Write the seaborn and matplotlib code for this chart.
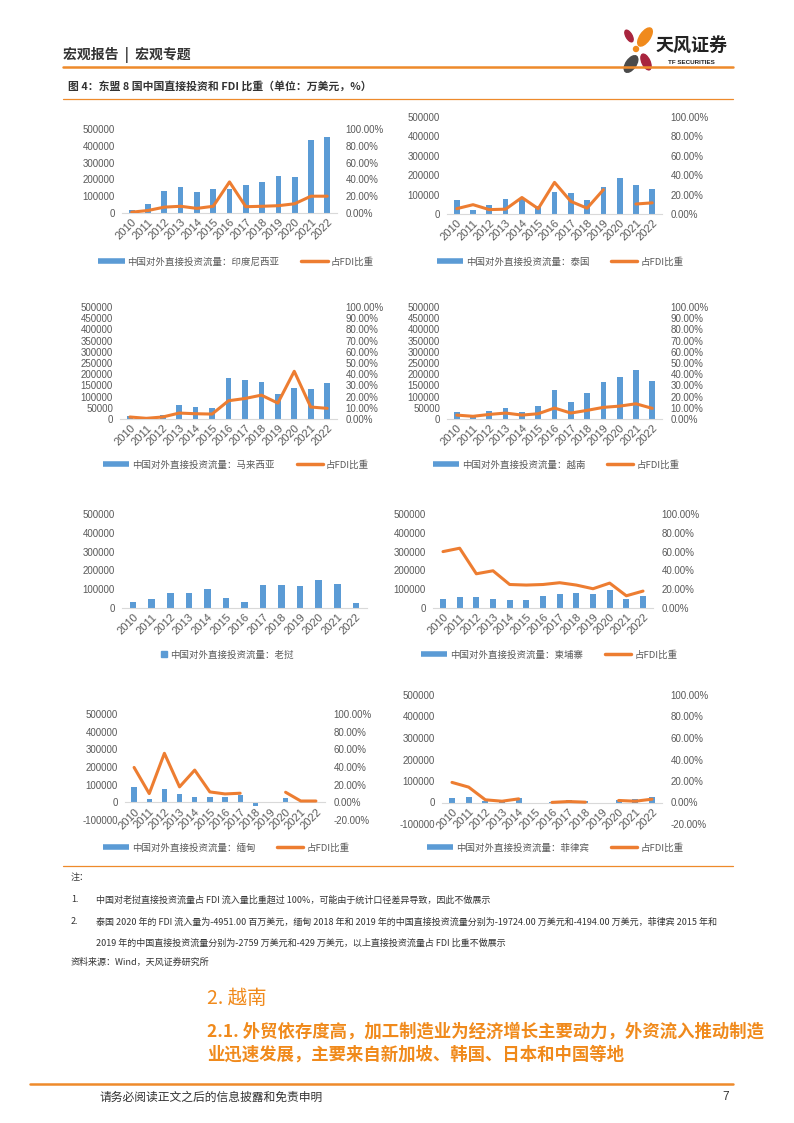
import numpy as np
import pandas as pd
import matplotlib
matplotlib.use("Agg")
import matplotlib.pyplot as plt
from matplotlib.lines import Line2D
from matplotlib.patches import Ellipse
import seaborn as sns

# ---- data (万美元 / %) ----
years = [str(y) for y in range(2010, 2023)]
nan = np.nan

indonesia_flow = [20000, 56000, 133000, 153000, 125000, 143000, 145000, 165000, 185000, 218000, 217000, 433000, 450000]
indonesia_ratio = [1.0, 3.0, 7.0, 8.0, 5.5, 8.0, 37.0, 7.5, 8.0, 8.7, 11.0, 20.0, 20.0]

thailand_flow = [72000, 23000, 48000, 76000, 82000, 41000, 112000, 106000, 74000, 138000, 188000, 149000, 127000]
thailand_ratio = [5.5, 9.6, 4.5, 5.0, 17.0, 5.5, 32.6, 13.0, 6.0, 25.0, nan, 10.3, 11.5]

malaysia_flow = [14000, 9500, 19900, 61600, 52100, 48900, 182600, 172000, 166000, 110000, 137000, 134000, 160000]
malaysia_ratio = [1.8, 0.6, 1.8, 5.3, 4.7, 4.4, 16.3, 18.3, 21.3, 14.2, 42.6, 10.7, 9.5]

vietnam_flow = [30500, 18900, 34900, 48100, 33300, 56000, 127900, 76400, 115100, 164900, 187600, 220800, 170000]
vietnam_ratio = [3.5, 2.4, 4.1, 5.3, 3.5, 4.7, 9.8, 5.3, 7.7, 10.4, 11.5, 13.6, 9.5]

laos_flow = [33000, 48000, 82000, 79000, 102500, 53000, 33000, 123000, 125000, 116000, 147000, 129000, 26500]

cambodia_flow = [46600, 56600, 55900, 49900, 43800, 41900, 62600, 74400, 77800, 74600, 95600, 46700, 63000]
cambodia_ratio = [60.0, 63.6, 36.4, 39.6, 25.0, 24.4, 25.0, 26.9, 24.4, 20.5, 26.5, 13.0, 18.0]

myanmar_flow = [85000, 20000, 73000, 46500, 33000, 31500, 28000, 41500, -19724, -4194, 24000, 1800, 1500]
myanmar_ratio = [39.5, 9.9, 55.5, 17.5, 36.5, 11.8, 9.5, 10.3, nan, nan, 11.4, 1.5, 1.5]

philippines_flow = [22500, 24000, 7500, 5400, 22500, -2759, 3200, 10800, 5900, -429, 13000, 15200, 27000]
philippines_ratio = [18.7, 14.3, 2.5, 1.2, 3.4, nan, 0.1, 0.9, 0.3, nan, 1.9, 1.2, 3.1]

BLUE = "#5B9BD5"
ORANGE = "#ED7D31"
RULE = "#EE8A2B"
GRAY = "#595959"

sns.set_style("white")
plt.rcParams["font.family"] = ["Liberation Sans", "Noto Sans CJK SC", "DejaVu Sans"]
CJK = ["Noto Sans CJK SC", "DejaVu Sans"]

W, H = 794, 1123
fig = plt.figure(figsize=(W / 100, H / 100), dpi=100)


def px_axes(x0, y0, x1, y1):
    return fig.add_axes([x0 / W, 1 - y1 / H, (x1 - x0) / W, (y1 - y0) / H])


def fy(y):
    return 1 - y / H


def draw_panel(box, name, flow, ratio, ylim, ystep, rlim, legend_c, square=False):
    ax = px_axes(*box)
    df = pd.DataFrame({"year": years, "flow": flow})
    sns.barplot(data=df, x="year", y="flow", color=BLUE, saturation=1, width=0.35,
                errorbar=None, linewidth=0, ax=ax)
    ax.set_xlim(-0.6, 12.6)
    ax.set_ylim(*ylim)
    ticks = np.arange(ylim[0], ylim[1] + 1, ystep)
    ax.set_yticks(ticks)
    ax.set_yticklabels([str(int(t)) for t in ticks])
    ax.set_xlabel("")
    ax.set_ylabel("")
    for s in ["top", "right", "left"]:
        ax.spines[s].set_visible(False)
    ax.spines["bottom"].set_color("#D9D9D9")
    ax.spines["bottom"].set_position(("data", 0))
    ax.tick_params(axis="y", length=0, labelsize=7, colors=GRAY, pad=5)
    ax.tick_params(axis="x", length=0, labelsize=8, colors=GRAY, pad=3)
    plt.setp(ax.get_xticklabels(), rotation=45, ha="right", rotation_mode="anchor")

    label = "中国对外直接投资流量：" + name
    if ratio is not None:
        ax2 = ax.twinx()
        ax2.plot(np.arange(len(years)), ratio, color=ORANGE, lw=2.2)
        ax2.set_ylim(*rlim[:2])
        rt = np.arange(rlim[0], rlim[1] + 0.1, rlim[2])
        ax2.set_yticks(rt)
        ax2.set_yticklabels([f"{v:.2f}%" for v in rt])
        for s in ax2.spines.values():
            s.set_visible(False)
        ax2.tick_params(axis="y", length=0, labelsize=7, colors=GRAY, pad=6)
        handles = [Line2D([], [], color=BLUE, lw=4, solid_capstyle="butt"),
                   Line2D([], [], color=ORANGE, lw=2.5, solid_capstyle="round")]
        labels = [label, "占FDI比重"]
        ncol = 2
    else:
        handles = [Line2D([], [], color=BLUE, lw=0, marker="s", markersize=4.5)]
        labels = [label]
        ncol = 1
    leg = fig.legend(handles, labels, loc="center", bbox_to_anchor=(legend_c[0] / W, fy(legend_c[1])),
                     ncol=ncol, frameon=False, handlelength=2.8 if not square else 0.8,
                     columnspacing=2.3, handletextpad=0.3, prop={"family": CJK, "size": 6.8})
    for t in leg.get_texts():
        t.set_color(GRAY)
    return ax


big = (0, 500000)
draw_panel((122, 129, 337, 213), "印度尼西亚", indonesia_flow, indonesia_ratio, big, 100000, (0, 100, 20), (236, 262))
draw_panel((447, 117, 662, 214), "泰国", thailand_flow, thailand_ratio, big, 100000, (0, 100, 20), (560, 262))
draw_panel((120, 307, 337, 419), "马来西亚", malaysia_flow, malaysia_ratio, big, 50000, (0, 100, 10), (236, 465))
draw_panel((447, 307, 662, 419), "越南", vietnam_flow, vietnam_ratio, big, 50000, (0, 100, 10), (556, 465))
draw_panel((122, 514, 367, 608), "老挝", laos_flow, None, big, 100000, None, (227, 655), square=True)
draw_panel((433, 514, 653, 608), "柬埔寨", cambodia_flow, cambodia_ratio, big, 100000, (0, 100, 20), (549, 655))
draw_panel((125, 714, 325, 820), "缅甸", myanmar_flow, myanmar_ratio, (-100000, 500000), 100000, (-20, 100, 20), (226, 848))
draw_panel((442, 695, 662, 824), "菲律宾", philippines_flow, philippines_ratio, (-100000, 500000), 100000, (-20, 100, 20), (555, 848))

# ---- page furniture ----
def rule(y, lw, x0=63, x1=733):
    fig.add_artist(Line2D([x0 / W, x1 / W], [fy(y), fy(y)], color=RULE, lw=lw, transform=fig.transFigure))


fig.text(63 / W, fy(55), "宏观报告  |  宏观专题", family=CJK, fontsize=10, weight="bold", color="#333333", va="center")
rule(67, 1.8)
fig.text(68 / W, fy(86), "图 4：东盟 8 国中国直接投资和 FDI 比重（单位：万美元，%）", family=CJK, fontsize=7.8,
         weight="bold", color="#333333", va="center")
rule(99, 0.9)

# logo
lg = px_axes(618, 20, 658, 78)
lg.set_xlim(618, 658)
lg.set_ylim(78, 20)
lg.axis("off")
lg.add_patch(Ellipse((629, 36), 6, 13, angle=-30, color="#A8243E"))
lg.add_patch(Ellipse((645, 37), 10, 21, angle=35, color="#F08A1C"))
lg.add_patch(Ellipse((631, 64), 10, 19, angle=35, color="#4A4A4A"))
lg.add_patch(Ellipse((646, 62), 8, 17, angle=-25, color="#A8243E"))
lg.add_patch(Ellipse((636, 49), 5, 5, color="#F08A1C"))
fig.text(656 / W, fy(46), "天风证券", family=CJK, fontsize=13, weight="bold", color="#222222", va="center")
fig.text(668 / W, fy(63), "TF SECURITIES", fontsize=4.5, weight="bold", color="#222222", va="center")

# notes
rule(866, 0.9)
note_kw = dict(family=CJK, fontsize=6.5, color="#333333", va="center")
fig.text(71 / W, fy(878), "注：", **note_kw)
fig.text(71 / W, fy(900), "1.", **note_kw)
fig.text(96 / W, fy(900), "中国对老挝直接投资流量占 FDI 流入量比重超过 100%，可能由于统计口径差异导致，因此不做展示", **note_kw)
fig.text(71 / W, fy(922), "2.", **note_kw)
fig.text(96 / W, fy(922), "泰国 2020 年的 FDI 流入量为-4951.00 百万美元，缅甸 2018 年和 2019 年的中国直接投资流量分别为-19724.00 万美元和-4194.00 万美元，菲律宾 2015 年和", **note_kw)
fig.text(96 / W, fy(943), "2019 年的中国直接投资流量分别为-2759 万美元和-429 万美元，以上直接投资流量占 FDI 比重不做展示", **note_kw)
fig.text(71 / W, fy(962), "资料来源：Wind，天风证券研究所", **note_kw)

# section heading
fig.text(207 / W, fy(998), "2. 越南", family=CJK, fontsize=14, color="#F08A1C", va="center")
fig.text(207 / W, fy(1032), "2.1. 外贸依存度高，加工制造业为经济增长主要动力，外资流入推动制造", family=CJK,
         fontsize=12.5, weight="bold", color="#F08A1C", va="center")
fig.text(207 / W, fy(1055), "业迅速发展，主要来自新加坡、韩国、日本和中国等地", family=CJK,
         fontsize=12.5, weight="bold", color="#F08A1C", va="center")

# footer
rule(1084, 1.8, x0=30, x1=733)
fig.text(100 / W, fy(1097), "请务必阅读正文之后的信息披露和免责申明", family=CJK, fontsize=8.5, color="#333333", va="center")
fig.text(722 / W, fy(1097), "7", fontsize=8.5, color="#333333", va="center")

fig.savefig("out.png", dpi=100)
